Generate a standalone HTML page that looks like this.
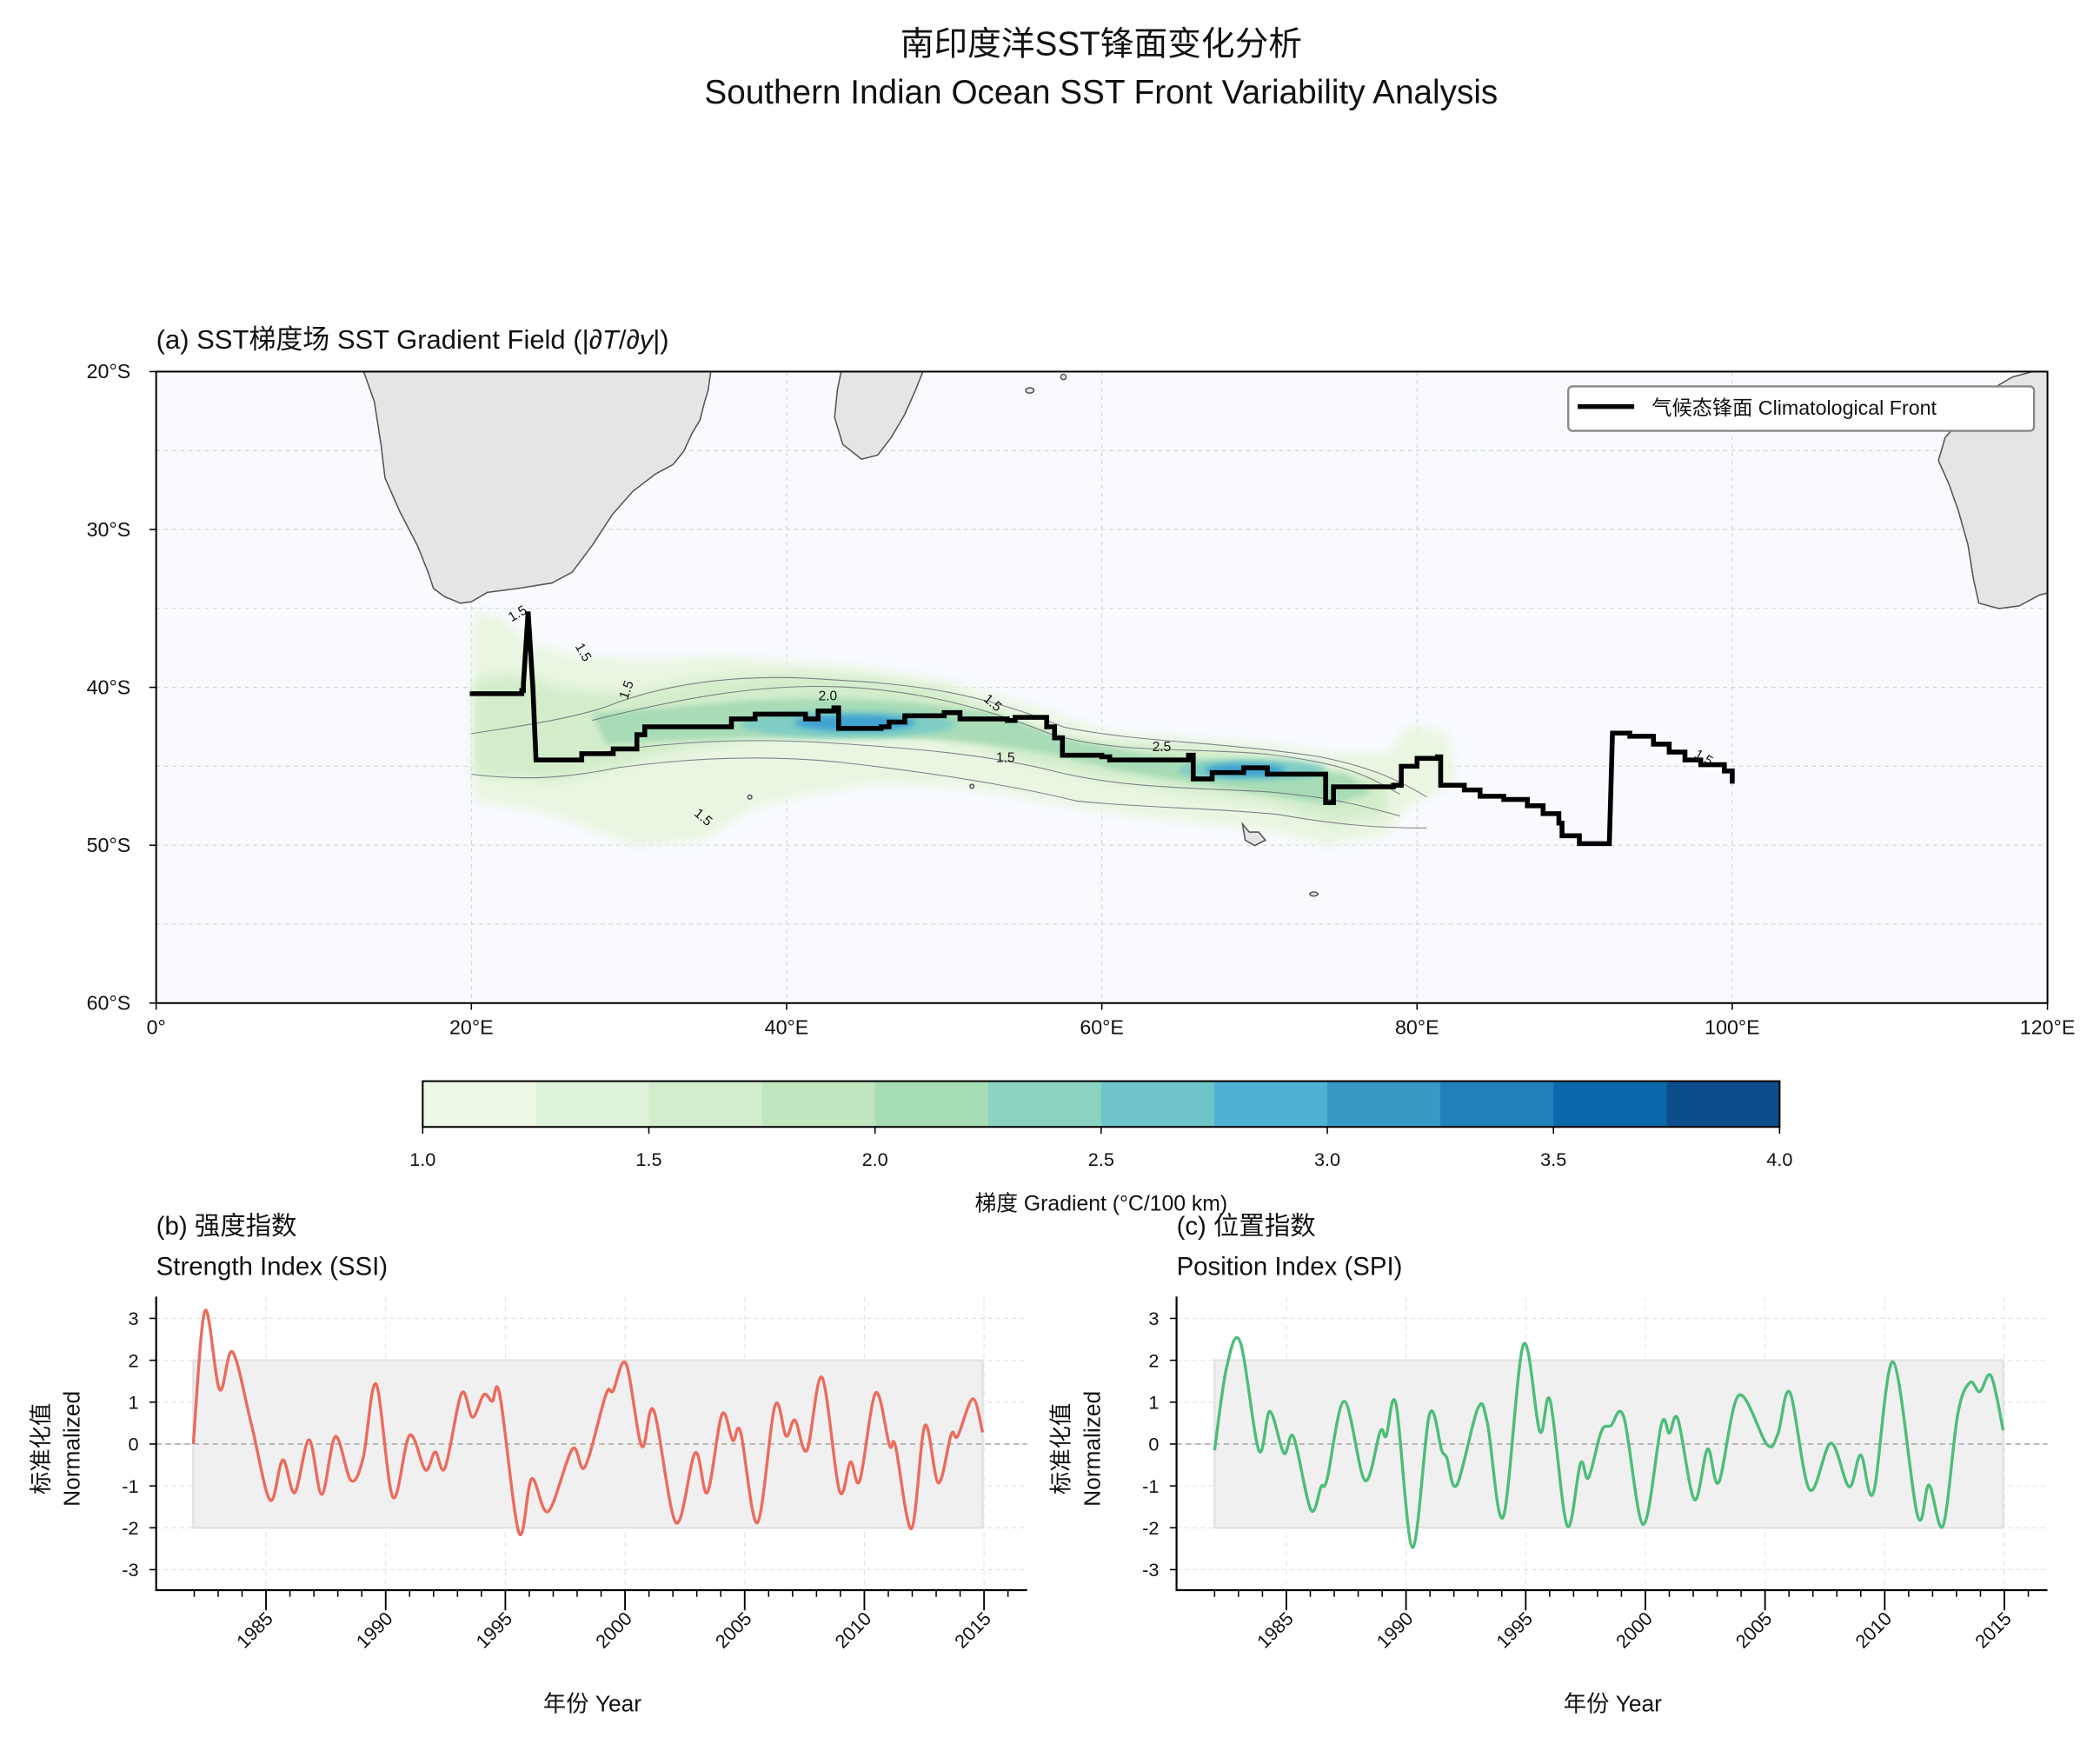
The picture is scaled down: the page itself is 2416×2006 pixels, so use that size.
<!DOCTYPE html>
<html><head><meta charset="utf-8"><style>
html,body{margin:0;padding:0;background:#fff}
svg{display:block}
text{font-family:"Liberation Sans","Noto Sans CJK SC",sans-serif;fill:#111}
</style></head><body>
<svg id="fig" xmlns="http://www.w3.org/2000/svg" width="2416" height="2006" viewBox="0 0 1560 1295.3">
<defs>
<filter id="blur4" x="-20%" y="-50%" width="140%" height="200%"><feGaussianBlur stdDeviation="4"/></filter>
<filter id="blur2" x="-20%" y="-50%" width="140%" height="200%"><feGaussianBlur stdDeviation="2"/></filter>
<clipPath id="mapclip"><rect x="116" y="276" width="1405" height="469"/></clipPath>
</defs>
<text x="818" y="41" font-size="25" text-anchor="middle">南印度洋SST锋面变化分析</text>
<text x="818" y="77" font-size="25" text-anchor="middle">Southern Indian Ocean SST Front Variability Analysis</text>

<g>
<text x="116" y="259" font-size="20">(a) SST梯度场 SST Gradient Field (|∂<tspan font-style="italic">T</tspan>/∂<tspan font-style="italic">y</tspan>|)</text>
<rect x="116" y="276" width="1405" height="469" fill="#f8faff"/>
<g clip-path="url(#mapclip)">
<g id="grid"></g>
<g>
<path filter="url(#blur4)" fill="#e9f6e1" d="M352,455 L372,458 L395,478 L430,488 L480,490 L540,488 L600,492 L650,497 L700,505 L760,522 L820,543 L880,548 L940,553 L990,560 L1030,560 L1048,538 L1075,545 L1082,580 L1045,600 L1030,620 L985,628 L950,618 L900,612 L840,606 L780,596 L720,585 L650,582 L600,590 L560,600 L520,625 L470,628 L430,612 L400,602 L352,595 Z"/>
<path filter="url(#blur4)" fill="#d3edca" d="M352,505 L380,500 L420,512 L470,515 L520,505 L580,500 L640,503 L700,512 L760,540 L810,552 L870,553 L930,558 L980,568 L1030,580 L1030,605 L990,612 L940,596 L890,590 L830,580 L770,568 L700,548 L640,540 L560,548 L500,558 L450,572 L410,580 L352,575 Z"/>
<path filter="url(#blur2)" fill="#a8dcb6" d="M440,530 L500,525 L560,520 L620,518 L680,522 L740,530 L790,548 L850,560 L900,565 L950,570 L1000,575 L1020,588 L990,598 L940,590 L890,582 L830,572 L780,560 L730,552 L680,548 L620,548 L560,548 L500,550 L450,553 Z"/>
<ellipse filter="url(#blur2)" cx="630" cy="538" rx="80" ry="10" fill="#7fcdc4"/>
<ellipse filter="url(#blur2)" cx="635" cy="537" rx="45" ry="6" fill="#3fa3d2"/>
<ellipse filter="url(#blur2)" cx="930" cy="572" rx="55" ry="8" fill="#7fcdc4"/>
<ellipse filter="url(#blur2)" cx="925" cy="572" rx="30" ry="5" fill="#3fa3d2"/>
<g fill="none" stroke="#667" stroke-width="0.7" opacity="0.8">
<path d="M440,535 C500,520 560,508 620,510 C680,512 730,525 780,545 C830,560 880,555 940,560 C990,566 1010,572 1040,590"/>
<path d="M440,560 C500,550 560,548 620,552 C680,556 730,560 780,572 C830,585 880,585 940,588 C990,592 1010,598 1040,606"/>
<path d="M350,545 C380,540 420,535 450,525 C500,505 560,500 620,505 C680,508 730,515 790,540 C850,552 900,550 980,562 C1020,570 1040,580 1060,592"/>
<path d="M350,575 C390,580 420,578 460,570 C520,562 580,560 640,568 C700,575 760,585 800,595 C850,600 900,600 950,605 C990,612 1020,615 1060,615"/>
</g>
<text x="380" y="462" font-size="10" fill="#888" transform="rotate(-30 380 462)">1.5</text>
<text x="427" y="480" font-size="10" fill="#888" transform="rotate(60 427 480)">1.5</text>
<text x="466" y="520" font-size="10" fill="#888" transform="rotate(-70 466 520)">1.5</text>
<text x="608" y="520" font-size="10" fill="#777">2.0</text>
<text x="730" y="520" font-size="10" fill="#888" transform="rotate(40 730 520)">1.5</text>
<text x="740" y="566" font-size="10" fill="#888">1.5</text>
<text x="856" y="558" font-size="10" fill="#888">2.5</text>
<text x="515" y="605" font-size="10" fill="#888" transform="rotate(40 515 605)">1.5</text>
<text x="1258" y="562" font-size="10" fill="#888" transform="rotate(30 1258 562)">1.5</text>
</g>
<g fill="#e5e5e5" stroke="#555" stroke-width="1">
<path d="M268,270 L278,298 L283,330 L286,355 L297,380 L310,405 L318,425 L322,437 L330,443 L342,448 L350,447 L362,440 L385,437 L410,433 L425,425 L440,405 L455,382 L470,365 L487,352 L500,345 L508,335 L514,322 L520,312 L523,300 L526,290 L528,276 L528,270 Z"/>
<path d="M626,270 L622,290 L620,310 L626,330 L640,341 L652,338 L662,325 L672,308 L680,290 L688,270 Z"/>
<path d="M1530,270 L1530,438 L1515,442 L1500,450 L1485,452 L1470,448 L1466,430 L1462,405 L1455,380 L1448,360 L1440,342 L1445,325 L1460,308 L1478,290 L1495,280 L1510,276 Z"/>
<ellipse cx="765" cy="290" rx="3" ry="2"/>
<ellipse cx="790" cy="280" rx="2" ry="2"/>
<path d="M923,612 L928,618 L935,618 L940,624 L932,628 L925,624 Z"/>
<ellipse cx="976" cy="664" rx="3" ry="1.5"/>
<ellipse cx="722" cy="584" rx="1.5" ry="1.5"/>
<ellipse cx="557" cy="592" rx="1.5" ry="1.5"/>
</g>
<g id="front"></g>
</g>
<rect x="116" y="276" width="1405" height="469" fill="none" stroke="#000" stroke-width="1.3"/>
<g id="mapaxes"></g>
<g>
<rect x="1165" y="287" width="346" height="33" rx="3" fill="#fff" stroke="#888" stroke-width="1.5"/>
<line x1="1172" y1="302" x2="1214" y2="302" stroke="#000" stroke-width="3.5"/>
<text x="1227" y="308" font-size="15">气候态锋面 Climatological Front</text>
</g>
</g>

<g id="cbar"></g>

<text x="116" y="917" font-size="19">(b) 强度指数</text>
<text x="116" y="947" font-size="19">Strength Index (SSI)</text>
<text x="874" y="917" font-size="19">(c) 位置指数</text>
<text x="874" y="947" font-size="19">Position Index (SPI)</text>
<g id="panelb"></g>
<g id="panelc"></g>
</svg>
<script>
const frontLon = [19.9,23.2,23.3,23.6,23.9,24.1,27,29,30.5,31,36,36.5,38,41,41.2,42,43,43.3,46,46.5,47.5,50,51,54,54.5,55.5,56.5,57,57.5,60,60.5,65,65.5,65.8,67,69,70.5,74,74.2,74.7,78,78.5,79,80,81.3,81.5,83,84,85.5,87,88,89,89.2,90,90.3,92.2,92.4,93.5,95,96,97,98,99.5,100];
const frontLat = [40.4,40.2,39.8,35.2,40,44.6,44.2,43.9,43.0,42.5,42.5,42.0,41.7,41.7,42.0,41.5,41.3,42.6,42.5,42.2,41.8,41.6,42.0,42.1,41.9,41.9,42.5,43.2,44.3,44.4,44.6,44.6,44.3,45.8,45.4,45.1,45.5,45.5,47.3,46.3,46.3,46.2,45.0,44.5,44.4,46.2,46.5,46.9,47.1,47.5,48.0,48.6,49.4,49.4,49.9,49.9,42.9,43.1,43.6,44.1,44.6,44.9,45.3,46.1];
const cbarLevels = [1.0,1.25,1.5,1.75,2.0,2.25,2.5,2.75,3.0,3.25,3.5,3.75,4.0];
const cbarColors = ['#eef8e7','#dff2da','#d2edcc','#bfe6bd','#a7ddb5','#8bd2c0','#6fc4c9','#4fb2d5','#3899c7','#2180ba','#0b68ab','#0c4e8c'];
const cbarTicks = [1.0,1.5,2.0,2.5,3.0,3.5,4.0];
const ssiYears = [1981.96,1982.45,1983.06,1983.6,1984.4,1985.17,1985.7,1986.2,1986.8,1987.33,1987.9,1988.55,1989.06,1989.6,1990.3,1991.0,1991.66,1992.07,1992.48,1993.17,1993.63,1994.1,1994.45,1994.77,1995.57,1996.1,1996.79,1997.8,1998.32,1999.2,1999.5,2000.04,2000.7,2001.2,2002.13,2002.93,2003.44,2004.05,2004.5,2004.83,2005.53,2006.26,2006.73,2007.1,2007.6,2008.23,2008.96,2009.42,2009.81,2010.47,2011.05,2011.3,2011.97,2012.53,2013.09,2013.63,2013.9,2014.53,2014.94];
const ssiValues = [0,3.18,1.30,2.2,0.44,-1.34,-0.38,-1.16,0.10,-1.2,0.18,-0.87,-0.33,1.43,-1.27,0.21,-0.62,-0.19,-0.57,1.21,0.64,1.18,1.02,1.17,-2.12,-0.83,-1.61,-0.12,-0.55,1.18,1.27,1.92,-0.05,0.80,-1.88,-0.21,-1.16,0.71,0.09,0.28,-1.88,0.91,0.19,0.57,-0.15,1.59,-1.12,-0.43,-0.87,1.22,-0.03,-0.05,-2.02,0.44,-0.93,0.23,0.19,1.08,0.28];
const spiYears = [1982.0,1982.5,1983.07,1983.85,1984.31,1984.9,1985.3,1986.02,1986.45,1986.7,1987.42,1988.28,1988.92,1989.17,1989.58,1990.27,1990.98,1991.49,1991.7,1992.12,1993.0,1993.4,1994.06,1994.9,1995.59,1996.02,1996.73,1997.29,1997.62,1998.16,1998.56,1999.1,1999.91,2000.67,2001.0,2001.36,2002.05,2002.6,2003.07,2003.9,2005.08,2005.53,2006.04,2006.86,2007.75,2008.51,2009.0,2009.53,2010.35,2011.37,2011.85,2012.44,2013.05,2013.56,2013.97,2014.44,2014.95];
const spiValues = [-0.15,1.82,2.44,-0.15,0.78,-0.22,0.17,-1.57,-1.02,-0.84,1.02,-0.87,0.30,0.19,0.96,-2.47,0.71,-0.15,-0.33,-0.98,0.85,0.5,-1.74,2.37,0.30,1.04,-1.95,-0.46,-0.81,0.30,0.44,0.64,-1.92,0.47,0.26,0.59,-1.33,-0.12,-0.91,1.16,-0.01,0.23,1.23,-1.09,0.02,-1.02,-0.26,-1.16,1.96,-1.71,-0.98,-1.95,0.71,1.47,1.25,1.63,0.33];
const yTicks = [-3,-2,-1,0,1,2,3];
const xTickYears = [1985,1990,1995,2000,2005,2010,2015];
const lonTicks = [0,20,40,60,80,100,120];
const latTicks = [20,30,40,50,60];

const NS='http://www.w3.org/2000/svg';
function mk(tag, attrs, parent){const e=document.createElementNS(NS,tag);for(const k in attrs)e.setAttribute(k,attrs[k]);parent.appendChild(e);return e;}
const lonX = lon => 116 + lon*1405/120;
const latY = lat => 276 + (lat-20)*469/40;

const grid=document.getElementById('grid');
for(let lon=20;lon<=100;lon+=20){const l=mk('line',{x1:lonX(lon),x2:lonX(lon),y1:276,y2:745,stroke:'#ccc','stroke-width':0.6,'stroke-dasharray':'3,3'},grid);

}
for(let lat=25;lat<=55;lat+=5){const l=mk('line',{x1:116,x2:1521,y1:latY(lat),y2:latY(lat),stroke:'#ccc','stroke-width':0.6,'stroke-dasharray':'3,3'},grid);

}

const front=document.getElementById('front');
let fpts=[[lonX(frontLon[0]),latY(frontLat[0])]];
for(let i=1;i<frontLon.length;i++){
  const x=lonX(frontLon[i]), y=latY(frontLat[i]);
  if(Math.abs(frontLat[i]-frontLat[i-1])>2){fpts.push([x,y]);}
  else{fpts.push([x,latY(frontLat[i-1])]);fpts.push([x,y]);}
}
const fp=mk('polyline',{points:fpts.map(p=>p[0].toFixed(2)+','+p[1].toFixed(2)).join(' '),fill:'none',stroke:'#000','stroke-width':3.6,'stroke-linejoin':'miter'},front);



const ma=document.getElementById('mapaxes');
lonTicks.forEach(lon=>{const x=lonX(lon);
const t=mk('line',{x1:x,x2:x,y1:745,y2:750,stroke:'#000','stroke-width':1},ma);


const tx=mk('text',{x:x,y:768,'font-size':15,'text-anchor':'middle'},ma);tx.textContent=lon===0?'0°':lon+'°E';

});
latTicks.forEach(lat=>{const y=latY(lat);
const t=mk('line',{x1:111,x2:116,y1:y,y2:y,stroke:'#000','stroke-width':1},ma);


const tx=mk('text',{x:97,y:y+5,'font-size':15,'text-anchor':'end'},ma);tx.textContent=lat+'°S';

});

const cb=document.getElementById('cbar');
const cbx0=314, cbx1=1322, cby0=803, cby1=837;
const cbX = v => cbx0 + (v-1)*(cbx1-cbx0)/3;
cbarColors.forEach((c,i)=>{const r=mk('rect',{x:cbX(cbarLevels[i]),y:cby0,width:cbX(cbarLevels[i+1])-cbX(cbarLevels[i])+0.5,height:cby1-cby0,fill:c},cb);

});
const cbf=mk('rect',{x:cbx0,y:cby0,width:cbx1-cbx0,height:cby1-cby0,fill:'none',stroke:'#000','stroke-width':1.3},cb);


cbarTicks.forEach(v=>{const x=cbX(v);
const t=mk('line',{x1:x,x2:x,y1:cby1,y2:cby1+5,stroke:'#000','stroke-width':1},cb);


const tx=mk('text',{x:x,y:866,'font-size':14,'text-anchor':'middle'},cb);tx.textContent=v.toFixed(1);

});
const cbl=mk('text',{x:818,y:899,'font-size':16,'text-anchor':'middle'},cb);cbl.textContent='梯度 Gradient (°C/100 km)';



function smooth(pts){let d='M'+pts[0][0]+','+pts[0][1];
for(let i=0;i<pts.length-1;i++){const p0=pts[Math.max(i-1,0)],p1=pts[i],p2=pts[i+1],p3=pts[Math.min(i+2,pts.length-1)];
const c1=[p1[0]+(p2[0]-p0[0])/6,p1[1]+(p2[1]-p0[1])/6],c2=[p2[0]-(p3[0]-p1[0])/6,p2[1]-(p3[1]-p1[1])/6];
d+=' C'+c1[0].toFixed(2)+','+c1[1].toFixed(2)+' '+c2[0].toFixed(2)+','+c2[1].toFixed(2)+' '+p2[0].toFixed(2)+','+p2[1].toFixed(2);}
return d;}

function panel(gid, x0, years, vals, color, prefix){
const g=document.getElementById(gid);
const left=x0, right=x0+647, top=963, bottom=1181;
const X = yr => left + 81.6 + (yr-1985)*17.78;
const Y = v => 1072.5 - v*31.1;
yTicks.forEach(v=>{const l=mk('line',{x1:left,x2:right,y1:Y(v),y2:Y(v),stroke:'#ddd','stroke-width':0.7,'stroke-dasharray':'3,3'},g);

});
xTickYears.forEach(yr=>{const l=mk('line',{x1:X(yr),x2:X(yr),y1:top,y2:bottom,stroke:'#e4e4e4','stroke-width':0.7,'stroke-dasharray':'4,3'},g);

});
const band=mk('rect',{x:X(years[0]),y:Y(2),width:X(years[years.length-1])-X(years[0]),height:Y(-2)-Y(2),fill:'#f0f0f0',stroke:'#e2e2e2','stroke-width':1.5},g);


const z=mk('line',{x1:left,x2:right,y1:Y(0),y2:Y(0),stroke:'#aaa','stroke-width':1,'stroke-dasharray':'4,3'},g);


const p=mk('path',{d:smooth(years.map((yr,i)=>[X(yr),Y(vals[i])])),fill:'none',stroke:color,'stroke-width':2.2},g);


const sp=mk('path',{d:`M${left},${top} L${left},${bottom} L${right},${bottom}`,fill:'none',stroke:'#000','stroke-width':1.4},g);


yTicks.forEach(v=>{const t=mk('line',{x1:left-5,x2:left,y1:Y(v),y2:Y(v),stroke:'#000','stroke-width':1},g);


const tx=mk('text',{x:left-13,y:Y(v)+5,'font-size':14,'text-anchor':'end'},g);tx.textContent=v;

});
for(let yr=1982;yr<=2016;yr++){const major=xTickYears.includes(yr);
const t=mk('line',{x1:X(yr),x2:X(yr),y1:bottom,y2:bottom+(major?15:5),stroke:'#000','stroke-width':major?1.2:1},g);

}
xTickYears.forEach(yr=>{const x=X(yr)+6,y=1203;
const tx=mk('text',{x:x,y:y,'font-size':14,'text-anchor':'end',transform:`rotate(-45 ${x} ${y})`},g);tx.textContent=yr;

});
const xl=mk('text',{x:left+324,y:1271,'font-size':17,'text-anchor':'middle'},g);xl.textContent='年份 Year';


const cx1=left-80, cx2=left-57, cy=1076;
const y1=mk('text',{x:cx1,y:cy,'font-size':17,'text-anchor':'middle',transform:`rotate(-90 ${cx1} ${cy})`},g);y1.textContent='标准化值';


const y2=mk('text',{x:cx2,y:cy,'font-size':17,'text-anchor':'middle',transform:`rotate(-90 ${cx2} ${cy})`},g);y2.textContent='Normalized';


}
panel('panelb',116,ssiYears,ssiValues,'#eb6b5e','ssi');
panel('panelc',874,spiYears,spiValues,'#4dbd79','spi');
</script>
</body></html>
